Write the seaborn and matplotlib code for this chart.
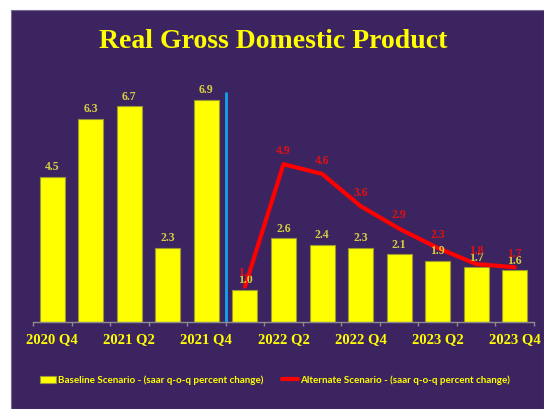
import numpy as np
import pandas as pd
import matplotlib
matplotlib.use("Agg")
import matplotlib.pyplot as plt
from matplotlib.patches import Rectangle
import seaborn as sns

quarters = ["2020 Q4", "2021 Q1", "2021 Q2", "2021 Q3", "2021 Q4",
            "2022 Q1", "2022 Q2", "2022 Q3", "2022 Q4",
            "2023 Q1", "2023 Q2", "2023 Q3", "2023 Q4"]
baseline = [4.5, 6.3, 6.7, 2.3, 6.9, 1.0, 2.6, 2.4, 2.3, 2.1, 1.9, 1.7, 1.6]
alternate = [np.nan, np.nan, np.nan, np.nan, np.nan,
             1.1, 4.9, 4.6, 3.6, 2.9, 2.3, 1.8, 1.7]

BG = "#3C2461"
YEL = "#FFFF00"
LBL = "#D6CE3E"
RED = "#FF0000"

sns.set_style("dark")
plt.rcParams["font.family"] = ["Liberation Serif", "DejaVu Serif"]

fig = plt.figure(figsize=(5.44, 4.09), dpi=100, facecolor="white")
fig.patches.append(Rectangle((11 / 544, 0), 1 - 11 / 544, 1 - 10 / 409,
                             transform=fig.transFigure, facecolor=BG,
                             edgecolor="#7A6A90", linewidth=0.8, zorder=-5))

ax = fig.add_axes([33 / 544, 1 - 322 / 409, 501 / 544, 241.5 / 409])
ax.set_facecolor("none")

df = pd.DataFrame({"x": np.arange(len(quarters)), "quarter": quarters,
                   "baseline": baseline, "alternate": alternate})

sns.barplot(data=df, x="x", y="baseline", color=YEL, width=0.65,
            edgecolor="#9A9A30", linewidth=0.8, saturation=1, ax=ax,
            label="Baseline Scenario - (saar q-o-q percent change)", zorder=2)

alt = df.dropna(subset=["alternate"])
sns.lineplot(data=alt, x="x", y="alternate", color=RED, linewidth=3,
             ax=ax, label="Alternate Scenario - (saar q-o-q percent change)",
             zorder=4)

# divider between history and forecast
ax.vlines(4.5, 0, 7.15, color="#12A4EC", linewidth=2, zorder=3)

for i, v in enumerate(baseline):
    ax.annotate(f"{v:.1f}", (i, v), xytext=(0, 7), textcoords="offset points",
                ha="center", va="center", fontsize=8.5, fontweight="bold",
                color=LBL, zorder=5)
for i, v in zip(alt["x"], alt["alternate"]):
    ax.annotate(f"{v:.1f}", (i, v), xytext=(0, 9.5), textcoords="offset points",
                ha="center", va="center", fontsize=8.5, fontweight="bold",
                color="#E01010", zorder=5)

ax.set_xlim(-0.5, len(quarters) - 0.5)
ax.set_ylim(0, 7.5)
ax.set_yticks([])
ax.set_xlabel("")
ax.set_ylabel("")
ax.grid(False)
for s in ["top", "left", "right"]:
    ax.spines[s].set_visible(False)
ax.spines["bottom"].set_color("#8C8C8C")
ax.spines["bottom"].set_linewidth(1)

ax.set_xticks(np.arange(-0.5, len(quarters), 1))
ax.set_xticklabels([])
ax.set_xticks(np.arange(0, len(quarters), 2), labels=quarters[::2], minor=True)
ax.tick_params(axis="x", which="major", direction="out", length=3,
               color="#8C8C8C", width=1, bottom=True)
ax.tick_params(axis="x", which="minor", length=0, pad=8, labelsize=10.5,
               labelcolor=YEL)
for t in ax.get_xticklabels(minor=True):
    t.set_fontweight("bold")

handles, labels = ax.get_legend_handles_labels()
ax.get_legend().remove()
order = [labels.index(l) for l in sorted(labels, key=lambda s: not s.startswith("Baseline"))]
fig.legend([handles[k] for k in order], [labels[k] for k in order],
           loc="center", bbox_to_anchor=(0.505, 1 - 380 / 409),
           ncol=2, frameon=False, handlelength=1.6, handleheight=0.65,
           handletextpad=0.2, columnspacing=1.9,
           prop={"family": ["Lato", "DejaVu Sans"], "weight": "bold", "size": 7.1},
           labelcolor=YEL)

fig.text(273 / 544, 1 - 42 / 409, "Real Gross Domestic Product", ha="center",
         va="center", fontsize=20, fontweight="bold", color=YEL)

fig.savefig("out.png", dpi=100, facecolor="white")
